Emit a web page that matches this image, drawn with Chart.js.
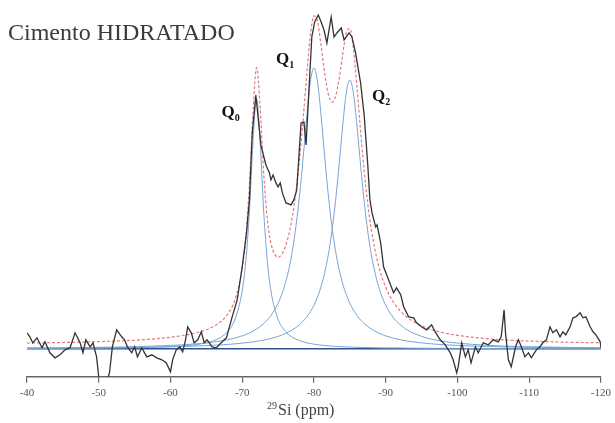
<!DOCTYPE html>
<html>
<head>
<meta charset="utf-8">
<script src="https://cdn.jsdelivr.net/npm/chart.js@4/dist/chart.umd.min.js"></script>
<style>
  html, body { margin: 0; padding: 0; background: #fff; }
  #chart { display: block; }
</style>
</head>
<body>
<canvas id="chart" width="615" height="423"></canvas>
<script>
// measured spectrum (29Si NMR), ppm vs intensity above baseline
const spectrumPpm = [-40.0, -40.4, -40.8, -41.4, -42.1, -42.5, -43.2, -43.9, -44.6, -45.3, -46.0, -46.7, -47.4, -47.8, -48.2, -48.8, -49.2, -49.7, -50.0, -50.4, -51.1, -51.5, -51.9, -52.5, -53.2, -53.6, -54.0, -54.6, -55.0, -55.4, -56.0, -56.7, -57.4, -58.1, -58.8, -59.4, -60.0, -60.3, -60.8, -61.3, -61.7, -62.1, -62.4, -62.9, -63.3, -63.8, -64.3, -64.7, -65.1, -65.8, -66.4, -66.8, -67.2, -67.8, -68.6, -69.3, -70.0, -70.6, -71.0, -71.4, -71.9, -72.6, -73.3, -73.8, -74.0, -74.3, -74.7, -75.0, -75.3, -75.6, -76.1, -76.8, -77.2, -77.6, -78.2, -78.6, -78.9, -79.3, -79.7, -80.1, -80.6, -81.0, -81.4, -81.8, -82.4, -82.8, -83.2, -83.8, -84.2, -84.9, -85.3, -85.8, -86.5, -87.0, -87.5, -87.8, -88.1, -88.6, -88.8, -89.3, -89.7, -90.4, -91.1, -91.5, -92.1, -92.5, -93.2, -93.9, -94.3, -95.0, -95.7, -96.4, -96.9, -97.6, -98.3, -99.0, -99.4, -99.9, -100.1, -100.6, -101.1, -101.5, -101.9, -102.5, -102.9, -103.6, -104.3, -105.0, -105.7, -106.1, -106.5, -106.7, -107.1, -107.5, -108.1, -108.5, -108.9, -109.4, -109.9, -110.3, -111.0, -111.5, -111.9, -112.4, -112.9, -113.3, -113.8, -114.3, -114.7, -115.1, -115.7, -116.1, -116.5, -117.1, -117.5, -117.9, -118.5, -118.9, -119.3, -119.9, -120.0];
const spectrumInt = [16, 12, 6, 11, 1, 7, -4, -9, -6, -1, 1, 16, 6, -4, 9, 2, 6, -8, -28, -31, -33, -24, 2, 19, 12, 9, 2, -4, 2, -8, 1, -8, -6, -9, -11, -14, -23, -11, -1, 2, -3, 9, 22, 16, 6, 9, 17, 6, 9, 2, 1, 4, 7, 11, 32, 49, 82, 116, 149, 216, 254, 204, 184, 176, 169, 174, 166, 162, 166, 156, 146, 144, 149, 159, 226, 227, 204, 259, 312, 327, 334, 327, 319, 306, 332, 312, 316, 321, 309, 316, 312, 296, 266, 234, 184, 149, 136, 122, 124, 106, 82, 69, 56, 61, 54, 42, 32, 31, 26, 22, 19, 24, 17, 9, 4, -4, -11, -24, -18, 6, -8, -1, -14, 2, -4, 6, 4, 9, 7, 12, 39, 16, -11, -18, 2, 9, 2, -8, -4, -9, -1, 2, 6, 9, 22, 16, 19, 12, 17, 14, 22, 31, 32, 36, 31, 32, 22, 17, 14, 7, 1];

// deconvolution: Q0, Q1, Q2 components and total fit, read on a common ppm grid
const fitPpm = [-40, -44, -48, -52, -56, -60, -62, -64, -65, -66, -67, -68, -69, -70, -70.5, -71, -71.5, -72, -72.5, -73, -73.5, -74, -75, -76, -77, -78, -78.5, -79, -79.5, -80, -80.5, -81, -81.5, -82, -82.5, -83, -83.5, -84, -84.5, -85, -85.5, -86, -86.5, -87, -87.5, -88, -89, -90, -91, -92, -93, -94, -96, -98, -100, -104, -108, -112, -116, -120];
const q0Int = [0.3, 0.4, 0.5, 0.8, 1.2, 2.1, 3.0, 4.6, 6.0, 8.1, 11.5, 17.6, 29.6, 58.1, 87.4, 136.9, 207.2, 250, 207.2, 136.9, 87.4, 58.1, 29.6, 17.6, 11.5, 8.1, 7.0, 6.0, 5.3, 4.6, 4.1, 3.7, 3.3, 3.0, 2.7, 2.5, 2.3, 2.1, 1.9, 1.8, 1.7, 1.5, 1.4, 1.3, 1.3, 1.2, 1.0, 0.9, 0.9, 0.8, 0.7, 0.6, 0.5, 0.5, 0.4, 0.3, 0.2, 0.2, 0.2, 0.1];
const q1Int = [0.9, 1.0, 1.3, 1.7, 2.3, 3.4, 4.1, 5.2, 5.9, 6.8, 7.8, 9.1, 10.8, 13.0, 14.3, 15.8, 17.6, 19.8, 22.3, 25.3, 28.9, 33.3, 45.6, 65.3, 98.3, 153.9, 191.8, 232.9, 267.2, 281, 267.2, 232.9, 191.8, 153.9, 122.6, 98.3, 79.6, 65.3, 54.2, 45.6, 38.8, 33.3, 28.9, 25.3, 22.3, 19.8, 15.8, 13.0, 10.8, 9.1, 7.8, 6.8, 5.2, 4.1, 3.4, 2.3, 1.7, 1.3, 1.0, 0.9];
const q2Int = [0.7, 0.8, 1.0, 1.2, 1.5, 2.1, 2.4, 2.9, 3.2, 3.6, 3.9, 4.4, 5.0, 5.7, 6.1, 6.5, 7.0, 7.5, 8.1, 8.7, 9.5, 10.3, 12.4, 15.2, 18.9, 24.2, 27.7, 31.9, 37.1, 43.6, 51.9, 62.5, 76.2, 94.1, 117.4, 147.3, 183.6, 222.9, 255.8, 269, 255.8, 222.9, 183.6, 147.3, 117.4, 94.1, 62.5, 43.6, 31.9, 24.2, 18.9, 15.2, 10.3, 7.5, 5.7, 3.6, 2.4, 1.8, 1.4, 1.1];
const fitInt = [5.8, 6.2, 6.8, 7.7, 9.0, 11.6, 13.6, 16.8, 19.1, 22.4, 27.2, 35.1, 49.4, 80.8, 111.8, 163.2, 235.8, 281.3, 241.6, 174.9, 129.8, 105.7, 91.6, 102.1, 132.7, 190.2, 230.5, 274.8, 313.6, 333.2, 327.2, 303.1, 275.3, 255.0, 246.7, 252.1, 269.5, 294.3, 315.9, 320.4, 300.3, 261.7, 217.9, 177.9, 145.0, 119.1, 83.3, 61.5, 47.6, 38.1, 31.4, 26.6, 20.0, 16.1, 13.5, 10.2, 8.3, 7.3, 6.5, 6.1];
const baselinePpm = [-40, -120];
const baselineInt = [0, 0];

// peak labels: [main, subscript, ppm, intensity]
const peakLabels = [
  ['Q', '0', -67.1, 232],
  ['Q', '1', -74.7, 285],
  ['Q', '2', -88.1, 248],
];

const xTickStep = 10;
const serif = '"Liberation Serif", "DejaVu Serif", serif';

function toPoints(xs, ys) {
  return xs.map((x, i) => ({ x: x, y: ys[i] }));
}

const textPlugin = {
  id: 'texts',
  afterDraw(chart) {
    const ctx = chart.ctx;
    const xs = chart.scales.x;
    const ys = chart.scales.y;
    ctx.save();
    ctx.textBaseline = 'alphabetic';
    ctx.textAlign = 'left';
    // title
    ctx.fillStyle = '#3a3a3a';
    ctx.font = '24px ' + serif;
    ctx.fillText('Cimento HIDRATADO', 8, 40);
    // peak labels
    peakLabels.forEach(l => {
      const px = xs.getPixelForValue(l[2]);
      const py = ys.getPixelForValue(l[3]);
      ctx.fillStyle = '#111';
      ctx.font = 'bold 17px ' + serif;
      ctx.fillText(l[0], px, py);
      const w = ctx.measureText(l[0]).width;
      ctx.font = 'bold 10px ' + serif;
      ctx.fillText(l[1], px + w, py + 4);
    });
    // x axis title: 29Si (ppm)
    ctx.fillStyle = '#444';
    ctx.font = '10px ' + serif;
    ctx.fillText('29', 267, 409);
    ctx.font = '16px ' + serif;
    ctx.fillText('Si (ppm)', 278, 415);
    ctx.restore();
  }
};

const chart = new Chart(document.getElementById('chart').getContext('2d'), {
  type: 'line',
  data: {
    datasets: [
      {
        label: 'Spectrum',
        data: toPoints(spectrumPpm, spectrumInt),
        borderColor: '#333',
        borderWidth: 1.3,
        pointRadius: 0,
        tension: 0,
        fill: false
      },
      {
        label: 'Fit',
        data: toPoints(fitPpm, fitInt),
        borderColor: '#e57a7a',
        borderWidth: 1.2,
        borderDash: [3, 2],
        pointRadius: 0,
        cubicInterpolationMode: 'monotone',
        fill: false
      },
      {
        label: 'Q0',
        data: toPoints(fitPpm, q0Int),
        borderColor: '#7aa3d4',
        borderWidth: 1,
        pointRadius: 0,
        cubicInterpolationMode: 'monotone',
        fill: false
      },
      {
        label: 'Q1',
        data: toPoints(fitPpm, q1Int),
        borderColor: '#7aa3d4',
        borderWidth: 1,
        pointRadius: 0,
        cubicInterpolationMode: 'monotone',
        fill: false
      },
      {
        label: 'Q2',
        data: toPoints(fitPpm, q2Int),
        borderColor: '#7aa3d4',
        borderWidth: 1,
        pointRadius: 0,
        cubicInterpolationMode: 'monotone',
        fill: false
      },
      {
        label: 'Baseline',
        data: toPoints(baselinePpm, baselineInt),
        borderColor: '#2f5192',
        borderWidth: 1.6,
        pointRadius: 0,
        fill: false
      },
    ]
  },
  options: {
    responsive: false,
    animation: false,
    devicePixelRatio: 1,
    layout: {
      padding: { left: 27, right: 12, top: 5, bottom: 19 }
    },
    plugins: {
      legend: { display: false },
      tooltip: { enabled: false },
      title: { display: false }
    },
    scales: {
      x: {
        type: 'linear',
        reverse: true,
        min: -120,
        max: -40,
        grid: {
          drawOnChartArea: false,
          drawTicks: true,
          tickLength: 6,
          color: '#666',
          lineWidth: 1.2
        },
        border: { display: true, color: '#666', width: 1.5 },
        ticks: {
          stepSize: xTickStep,
          padding: 4,
          color: '#555',
          font: { family: serif, size: 11 },
          maxRotation: 0
        }
      },
      y: {
        display: false,
        min: -28,
        max: 344
      }
    }
  },
  plugins: [textPlugin]
});
</script>
</body>
</html>
